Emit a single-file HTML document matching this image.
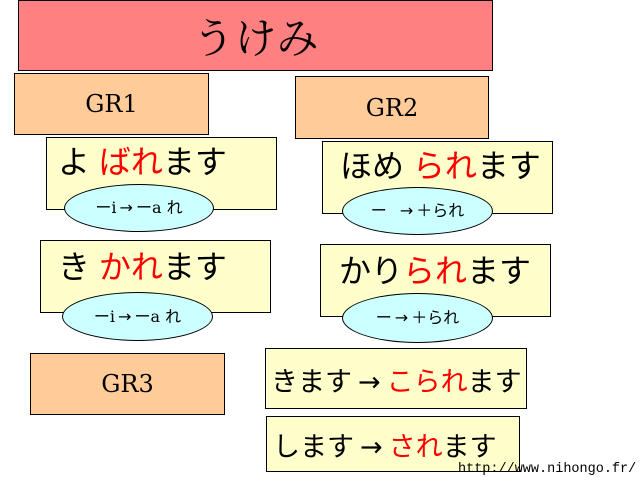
<!DOCTYPE html>
<html><head><meta charset="utf-8"><style>
body{margin:0;width:640px;height:480px;background:#fff;position:relative;overflow:hidden;font-family:"Liberation Sans","Noto Sans CJK JP",sans-serif}
.b{position:absolute;box-sizing:border-box;border:1px solid #000}
.t{position:absolute;white-space:nowrap;color:#000}
.r{color:#f00}
.a{font-family:"DejaVu Sans",sans-serif;margin:0 6px}
.e{position:absolute;box-sizing:border-box;border:1px solid #000;border-radius:50%;background:#ccffff;text-align:center;font-family:"DejaVu Serif","Noto Sans CJK JP",serif;font-size:16px}
.e .a{margin:0 3px}
.gr{background:#ffcc99;font-family:"DejaVu Serif",serif;font-size:24px;text-align:center}
.y{background:#ffffcc}
.j{font-size:32px}
</style></head><body>
<div class="b" style="left:18px;top:0;width:475px;height:71px;background:#ff8080;text-align:center;font-size:42px;line-height:70px;font-family:'Noto Serif CJK SC',serif">うけみ</div>
<div class="b gr" style="left:14px;top:73px;width:195px;height:62px;line-height:60px">GR1</div>
<div class="b gr" style="left:295px;top:76px;width:194px;height:63px;line-height:62px">GR2</div>
<div class="b gr" style="left:30px;top:353px;width:195px;height:62px;line-height:60px">GR3</div>

<div class="b y" style="left:46px;top:137px;width:231px;height:73px"></div>
<div class="t j" style="left:58px;top:137px">よ <span class="r">ばれ</span>ます</div>
<div class="e" style="left:64px;top:184px;width:150px;height:48px;line-height:46px">ーi<span class="a">→</span>ーa れ</div>

<div class="b y" style="left:322px;top:141px;width:231px;height:73px"></div>
<div class="t j" style="left:340px;top:141px">ほめ <span class="r">られ</span>ます</div>
<div class="e" style="left:342px;top:187px;width:151px;height:48px;line-height:46px">ー &nbsp;<span class="a">→</span>＋られ</div>

<div class="b y" style="left:40px;top:240px;width:231px;height:73px"></div>
<div class="t j" style="left:58px;top:242px">き <span class="r">かれ</span>ます</div>
<div class="e" style="left:62px;top:292px;width:151px;height:49px;line-height:47px">ーi<span class="a">→</span>ーa れ</div>

<div class="b y" style="left:320px;top:244px;width:231px;height:73px"></div>
<div class="t j" style="left:339px;top:246px">かり<span class="r">られ</span>ます</div>
<div class="e" style="left:342px;top:293px;width:151px;height:50px;line-height:48px">ー<span class="a">→</span>＋られ</div>

<div class="b y" style="left:265px;top:348px;width:262px;height:61px"></div>
<div class="t" style="left:271px;top:360px;font-size:27px">きます<span class="a">→</span><span class="r">こられ</span>ます</div>
<div class="b y" style="left:266px;top:416px;width:254px;height:56px"></div>
<div class="t" style="left:273px;top:425px;font-size:27px">します<span class="a">→</span><span class="r">され</span>ます</div>
<div class="t" style="left:458px;top:462px;font-size:13.5px;font-family:'Liberation Mono',monospace">http://www.nihongo.fr/</div>
</body></html>
